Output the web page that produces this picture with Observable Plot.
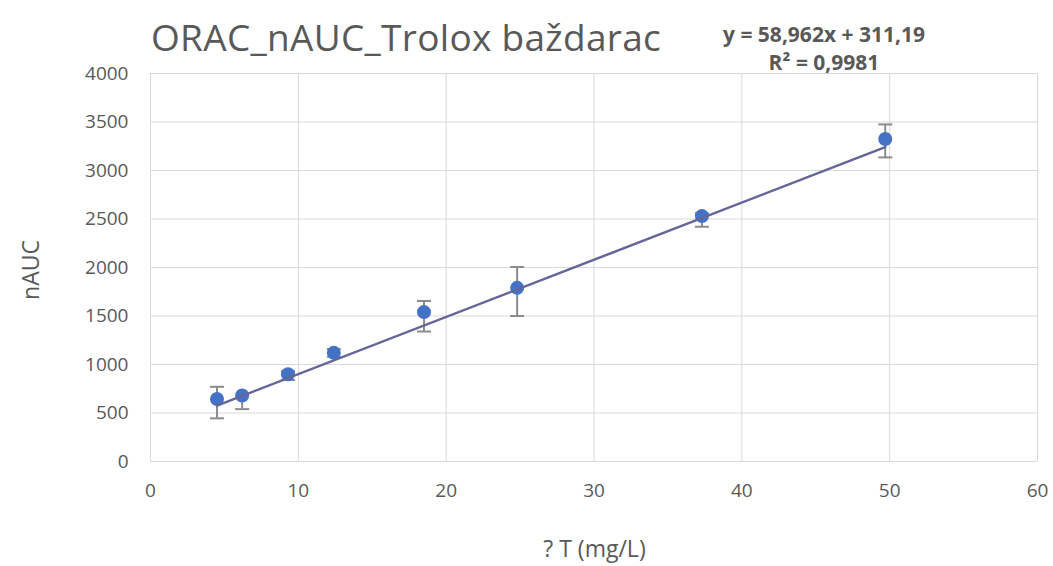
<!DOCTYPE html>
<html>
<head>
<meta charset="utf-8">
<script src="https://cdn.jsdelivr.net/npm/d3@7"></script>
<script src="https://cdn.jsdelivr.net/npm/@observablehq/plot@0.6"></script>
<style>
  html, body { margin: 0; padding: 0; background: #fff; }
  #wrap { position: relative; width: 1053px; height: 566px; font-family: "Open Sans", sans-serif; color: #595959; }
  #title { position: absolute; left: 151px; top: 14px; font-size: 37px; line-height: 46px; white-space: nowrap; letter-spacing: 0.3px; z-index: 2; }
  #eq { position: absolute; left: 684px; top: 20px; width: 280px; text-align: center; font-size: 21px; font-weight: bold; line-height: 28px; white-space: nowrap; z-index: 2; }
  #xlab { position: absolute; left: 0; width: 1053px; padding-left: 136px; box-sizing: border-box; text-align: center; top: 533px; font-size: 23px; line-height: 30px; z-index: 2; }
  #ylab { position: absolute; left: 30px; top: 270px; font-size: 23px; line-height: 30px; transform: translate(-50%, -50%) rotate(-90deg); white-space: nowrap; z-index: 2; }
  svg { position: absolute; left: 0; top: 0; }
</style>
</head>
<body>
<div id="wrap">
  <div id="title">ORAC_nAUC_Trolox baždarac</div>
  <div id="eq">y = 58,962x + 311,19<br>R² = 0,9981</div>
  <div id="xlab">? T (mg/L)</div>
  <div id="ylab">nAUC</div>
</div>
<script>
// Data
const conc = [4.5, 6.2, 9.3, 12.4, 18.5, 24.8, 37.3, 49.7];      // ? T (mg/L)
const nAUC = [645, 680, 900, 1120, 1540, 1790, 2530, 3325];
const errLow = [200, 140, 60, 40, 200, 290, 110, 190];
const errHigh = [125, 0, 30, 40, 115, 215, 30, 150];
const slope = 58.962, intercept = 311.19;
const xTicks = [0, 10, 20, 30, 40, 50, 60];
const yTicks = [0, 500, 1000, 1500, 2000, 2500, 3000, 3500, 4000];

const pts = conc.map((x, i) => ({x, y: nAUC[i], lo: nAUC[i] - errLow[i], hi: nAUC[i] + errHigh[i]}));
const fitX = [conc[0], conc[conc.length - 1]];
const fit = fitX.map(x => ({x, y: slope * x + intercept}));

const cap = {draw(ctx, size) { ctx.moveTo(-7, 0); ctx.lineTo(7, 0); }};

const chart = Plot.plot({
  width: 1053,
  height: 566,
  marginTop: 73,
  marginBottom: 105,
  marginLeft: 150,
  marginRight: 16,
  style: {fontFamily: "Open Sans, sans-serif", fontSize: "19px", color: "#595959", background: "transparent"},
  x: {domain: [0, 60], ticks: xTicks, tickFormat: d => String(d), tickSize: 0, tickPadding: 22, label: null},
  y: {domain: [0, 4000], ticks: yTicks, tickFormat: d => String(d), tickSize: 0, tickPadding: 22, label: null},
  marks: [
    Plot.gridX(xTicks, {stroke: "#d9d9d9", strokeOpacity: 1, strokeWidth: 1}),
    Plot.gridY(yTicks, {stroke: "#d9d9d9", strokeOpacity: 1, strokeWidth: 1}),
    Plot.ruleX(pts.filter(d => d.hi > d.lo), {x: "x", y1: "lo", y2: "hi", stroke: "#8c8c8c", strokeWidth: 2}),
    Plot.dot(pts.filter((d, i) => errLow[i] > 0), {x: "x", y: "lo", symbol: cap, stroke: "#8c8c8c", strokeWidth: 2, fill: "none"}),
    Plot.dot(pts.filter((d, i) => errHigh[i] > 0), {x: "x", y: "hi", symbol: cap, stroke: "#8c8c8c", strokeWidth: 2, fill: "none"}),
    Plot.dot(pts, {x: "x", y: "y", r: 7, fill: "#4472c4", stroke: "none"}),
    Plot.line(fit, {x: "x", y: "y", stroke: "#65659a", strokeWidth: 2.5})
  ]
});
document.getElementById("wrap").appendChild(chart);
</script>
</body>
</html>
